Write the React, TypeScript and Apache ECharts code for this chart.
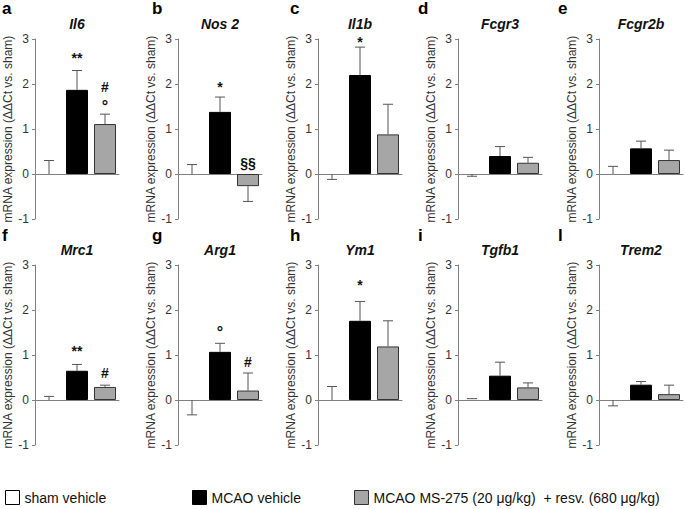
import React, { useEffect, useRef } from 'react';
import * as echarts from 'echarts';

const FONT = "'Liberation Sans', Arial, Helvetica, sans-serif";

const genes = ['Il6', 'Nos 2', 'Il1b', 'Fcgr3', 'Fcgr2b', 'Mrc1', 'Arg1', 'Ym1', 'Tgfb1', 'Trem2'];
const panelLetters = ['a', 'b', 'c', 'd', 'e', 'f', 'g', 'h', 'i', 'l'];
const groups = ['sham vehicle', 'MCAO vehicle', 'MCAO MS-275 (20 μg/kg)  + resv. (680 μg/kg)'];
const yAxisName = 'mRNA expression (ΔΔCt vs. sham)';
const yTicks = [-1, 0, 1, 2, 3];

// bar means per gene
const shamMean = [0, 0, 0, 0, 0, 0, 0, 0, 0.02, 0];
const mcaoMean = [1.87, 1.38, 2.2, 0.4, 0.57, 0.65, 1.07, 1.76, 0.54, 0.34];
const msMean = [1.11, -0.27, 0.88, 0.25, 0.31, 0.29, 0.21, 1.19, 0.28, 0.13];
// end of error whisker per gene
const shamErrEnd = [0.3, 0.21, -0.12, -0.05, 0.17, 0.08, -0.33, 0.3, 0.03, -0.13];
const mcaoErrEnd = [2.3, 1.71, 2.82, 0.61, 0.73, 0.79, 1.26, 2.19, 0.84, 0.41];
const msErrEnd = [1.33, -0.61, 1.55, 0.37, 0.53, 0.33, 0.6, 1.76, 0.38, 0.33];

// significance marks
const annotPanel = [0, 0, 0, 1, 1, 2, 5, 5, 6, 6, 7];
const annotGroup = [1, 2, 2, 1, 2, 1, 1, 2, 1, 2, 1];
const annotText = ['**', '#', '°', '*', '§§', '*', '**', '#', '°', '#', '*'];
const annotY = [2.57, 1.93, 1.5, 1.94, 0.24, 2.94, 1.1, 0.6, 1.5, 0.85, 2.55];

const groupColors = ['#ffffff', '#000000', '#a6a6a6'];
const groupBorders = ['#000000', '#000000', '#333333'];

export default function App() {
  const ref = useRef<HTMLDivElement>(null);
  useEffect(() => {
    const chart = echarts.init(ref.current as HTMLDivElement, null, { renderer: 'svg' });
    const axisX = [35, 178, 318, 458, 599];
    const rowTop = [39, 265];
    const letterX = [2, 152, 290, 418, 558];
    const letterY = [8, 235];
    const titleY = [24, 250];
    const grids: any[] = [];
    const xAxes: any[] = [];
    const yAxes: any[] = [];
    const series: any[] = [];
    const graphics: any[] = [];
    const means = [shamMean, mcaoMean, msMean];
    const errs = [shamErrEnd, mcaoErrEnd, msErrEnd];
    const axisColor = '#808080';

    genes.forEach((gene, i) => {
      const col = i % 5;
      const row = Math.floor(i / 5);
      grids.push({ left: axisX[col], top: rowTop[row], width: 84, height: 180 });
      xAxes.push({
        type: 'category',
        gridIndex: i,
        data: groups,
        axisLine: { onZero: true, lineStyle: { color: axisColor, width: 1 } },
        axisTick: { show: false },
        axisLabel: { show: false },
        splitLine: { show: false },
      });
      yAxes.push({
        type: 'value',
        gridIndex: i,
        min: yTicks[0],
        max: yTicks[yTicks.length - 1],
        interval: 1,
        name: yAxisName,
        nameLocation: 'middle',
        nameGap: col === 0 ? 13 : 17,
        nameTextStyle: { fontFamily: FONT, fontSize: 12, color: '#333' },
        axisLine: { show: true, lineStyle: { color: axisColor, width: 1 } },
        axisTick: { show: true, length: 3, lineStyle: { color: axisColor } },
        axisLabel: { fontFamily: FONT, fontSize: 12, color: '#333', margin: 6 },
        splitLine: { show: false },
      });
      groups.forEach((gname, k) => {
        series.push({
          type: 'bar',
          name: gname,
          xAxisIndex: i,
          yAxisIndex: i,
          barWidth: 22,
          barGap: '-100%',
          data: groups.map((_, j) => (j === k ? means[k][i] : '-')),
          itemStyle: { color: groupColors[k], borderColor: groupBorders[k], borderWidth: k === 0 ? 0 : 1 },
          emphasis: { disabled: true },
        });
      });
      series.push({
        type: 'custom',
        xAxisIndex: i,
        yAxisIndex: i,
        z: 5,
        data: groups.map((_, k) => [k, means[k][i], errs[k][i]]),
        renderItem: (params: any, api: any) => {
          const p0 = api.coord([api.value(0), api.value(1)]);
          const p1 = api.coord([api.value(0), api.value(2)]);
          const st = { stroke: '#555', lineWidth: 1 };
          return {
            type: 'group',
            children: [
              { type: 'line', shape: { x1: p0[0], y1: p0[1], x2: p1[0], y2: p1[1] }, style: st },
              { type: 'line', shape: { x1: p1[0] - 5, y1: p1[1], x2: p1[0] + 5, y2: p1[1] }, style: st },
            ],
          };
        },
      });
      const idx: number[] = [];
      annotPanel.forEach((p, j) => { if (p === i) idx.push(j); });
      if (idx.length) {
        series.push({
          type: 'custom',
          xAxisIndex: i,
          yAxisIndex: i,
          z: 6,
          data: idx.map((j) => [annotGroup[j], annotY[j]]),
          renderItem: (params: any, api: any) => {
            const j = idx[params.dataIndex];
            const p = api.coord([api.value(0), api.value(1)]);
            const t = annotText[j];
            return {
              type: 'text',
              x: p[0],
              y: p[1],
              style: {
                text: t,
                fill: '#111',
                fontFamily: FONT,
                fontSize: t === '°' ? 16 : 14,
                fontWeight: 'bold',
                align: 'center',
                verticalAlign: 'middle',
              },
            };
          },
        });
      }
      graphics.push({
        type: 'text',
        x: axisX[col] + 42,
        y: titleY[row],
        style: {
          text: gene,
          fill: '#111',
          fontFamily: FONT,
          fontSize: 14,
          fontWeight: 'bold',
          fontStyle: 'italic',
          align: 'center',
          verticalAlign: 'middle',
        },
      });
      graphics.push({
        type: 'text',
        x: letterX[col],
        y: letterY[row],
        style: {
          text: panelLetters[i],
          fill: '#000',
          fontFamily: FONT,
          fontSize: 17,
          fontWeight: 'bold',
          align: 'left',
          verticalAlign: 'middle',
        },
      });
    });

    const legendLeft = [5, 192, 354];
    const legends = groups.map((g, k) => ({
      show: true,
      data: [{ name: g, icon: 'rect', itemStyle: { color: groupColors[k], borderColor: groupBorders[k], borderWidth: 1 } }],
      left: legendLeft[k],
      top: 490,
      padding: 0,
      itemWidth: 14,
      itemHeight: 14,
      itemGap: 6,
      selectedMode: false,
      textStyle: { fontFamily: FONT, fontSize: 14, color: '#111' },
    }));

    chart.setOption({
      animation: false,
      backgroundColor: '#ffffff',
      grid: grids,
      xAxis: xAxes,
      yAxis: yAxes,
      series,
      legend: legends,
      graphic: graphics,
    });
    return () => chart.dispose();
  }, []);
  return (
    <div
      ref={ref}
      style={{ position: 'absolute', left: 0, top: 0, width: 685, height: 509, background: '#fff' }}
    />
  );
}
